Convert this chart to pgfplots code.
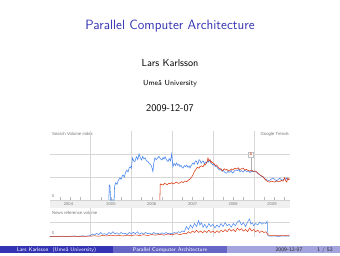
\documentclass[border=0pt]{standalone}
\usepackage{fontspec}
\usepackage{pgfplots}
\pgfplotsset{compat=1.18}
\newfontfamily\arial{Liberation Sans}
\definecolor{bstruct}{RGB}{51,51,179}
\definecolor{gblue}{RGB}{70,132,238}
\definecolor{gred}{RGB}{220,57,18}
\definecolor{ggrid}{RGB}{215,215,215}
\definecolor{gtext}{RGB}{120,120,120}
\begin{document}
\begin{tikzpicture}[x=1pt,y=1pt]
\useasboundingbox (0,0) rectangle (340,256);
\fill[white] (0,0) rectangle (340,256);
% title page
\node[anchor=base,text=bstruct,font=\sffamily\fontsize{13.4}{16}\selectfont] at (170,226.5) {Parallel Computer Architecture};
\node[anchor=base,font=\sffamily\fontsize{10.2}{12}\selectfont] at (170,189.5) {Lars Karlsson};
\node[anchor=base,font=\sffamily\fontsize{7.4}{9}\selectfont] at (170,170) {Umeå University};
\node[anchor=base,font=\sffamily\fontsize{10.2}{12}\selectfont] at (170,144.5) {2009-12-07};
% chart band
\fill[gray!12] (49.7,48) rectangle (290,56);
\draw[gray!35,line width=0.3pt] (49.7,56) -- (290,56);
\node[anchor=base west,text=gtext,font=\arial\fontsize{4.3}{5}\selectfont,inner sep=0pt] at (52,120.5) {Search Volume index};
\node[anchor=base east,text=gtext,font=\arial\fontsize{4.3}{5}\selectfont,inner sep=0pt] at (289,120.5) {Google Trends};
\node[anchor=base west,text=gtext,font=\arial\fontsize{4.3}{5}\selectfont,inner sep=0pt] at (52,41.5) {News reference volume};
\foreach \yr/\xx in {2004/68.5,2005/111,2006/151.7,2007/192.6,2008/233.2,2009/272}
  \node[anchor=base,text=gtext,font=\arial\fontsize{4.1}{5}\selectfont,inner sep=0pt] at (\xx,50.5) {\yr};
% upper chart
\begin{axis}[
  at={(49.7pt,56pt)}, anchor=south west, scale only axis,
  width=240.3pt, height=69pt,
  xmin=2004, xmax=2009.89, ymin=0, ymax=3,
  clip=false,
  axis line style={draw=none},
  xtick={2005,2006,2007,2008,2009},
  minor xtick={2004.25,2004.5,2004.75,2005.25,2005.5,2005.75,2006.25,2006.5,2006.75,2007.25,2007.5,2007.75,2008.25,2008.5,2008.75,2009.25,2009.5,2009.75},
  ytick={1,2},
  xticklabels={}, yticklabels={},
  xtick pos=bottom,
  major tick length=0pt, minor tick length=2.6pt, tick align=inside,
  minor tick style={gray!55,line width=0.3pt},
  grid=major, major grid style={ggrid,line width=0.35pt},
]
\node[anchor=base west,text=gtext,font=\arial\fontsize{4.1}{5}\selectfont,inner sep=0pt] at (axis cs:2004.05,0.1) {0};
\addplot[gblue,line width=0.55pt] coordinates {
(2005.45,0) (2005.46,0.65) (2005.48,0.6) (2005.49,0) (2005.58,0) (2005.59,0.6) (2005.62,0.75) (2005.65,0.68) (2005.68,0.85) (2005.72,0.96) (2005.75,0.9) (2005.78,1.05) (2005.80,1.09) (2005.83,1.0) (2005.86,1.2) (2005.89,1.30) (2005.92,1.22) (2005.95,1.4) (2005.97,1.45) (2006.0,1.38) (2006.03,1.83) (2006.06,1.7) (2006.09,1.67) (2006.11,1.8) (2006.13,1.88) (2006.16,1.75) (2006.19,2.0) (2006.22,1.85) (2006.25,1.74) (2006.28,1.9) (2006.31,1.78) (2006.34,1.83) (2006.37,1.7) (2006.41,1.67) (2006.44,1.58) (2006.47,1.55) (2006.50,1.45) (2006.53,1.23) (2006.55,1.6) (2006.58,1.83) (2006.61,1.75) (2006.65,1.84) (2006.68,1.9) (2006.71,1.8) (2006.75,1.74) (2006.78,1.85) (2006.80,1.78) (2006.83,1.88) (2006.86,1.75) (2006.90,1.67) (2006.93,1.8) (2006.96,1.7) (2006.99,2.0) (2007.02,1.45) (2007.05,1.6) (2007.08,1.5) (2007.11,1.61) (2007.14,1.5) (2007.17,1.55) (2007.19,1.45) (2007.22,1.5) (2007.25,1.4) (2007.27,1.39) (2007.30,1.5) (2007.33,1.45) (2007.36,1.52) (2007.39,1.42) (2007.42,1.48) (2007.44,1.39) (2007.47,1.5) (2007.51,1.61) (2007.54,1.55) (2007.57,1.7) (2007.60,1.67) (2007.63,1.55) (2007.66,1.75) (2007.68,1.74) (2007.71,1.6) (2007.74,1.68) (2007.76,1.70) (2007.79,1.58) (2007.82,1.65) (2007.85,1.61) (2007.88,1.72) (2007.90,1.65) (2007.93,1.74) (2007.96,1.6) (2008.00,1.52) (2008.03,1.55) (2008.06,1.45) (2008.09,1.45) (2008.12,1.38) (2008.15,1.32) (2008.17,1.30) (2008.20,1.35) (2008.23,1.25) (2008.25,1.30) (2008.28,1.22) (2008.31,1.18) (2008.34,1.17) (2008.37,1.25) (2008.40,1.2) (2008.42,1.22) (2008.45,1.28) (2008.47,1.2) (2008.49,1.17) (2008.52,1.25) (2008.55,1.3) (2008.58,1.30) (2008.61,1.27) (2008.64,1.35) (2008.66,1.23) (2008.70,1.28) (2008.74,1.22) (2008.78,1.3) (2008.83,1.23) (2008.87,1.27) (2008.91,1.2) (2008.95,1.26) (2008.98,1.23) (2009.02,1.25) (2009.07,1.22) (2009.10,1.15) (2009.13,1.12) (2009.15,1.09) (2009.19,1.03) (2009.23,1.01) (2009.27,0.92) (2009.30,0.9) (2009.32,0.87) (2009.36,0.85) (2009.40,0.87) (2009.44,0.92) (2009.47,0.96) (2009.51,0.9) (2009.56,0.83) (2009.60,0.9) (2009.64,0.94) (2009.68,0.88) (2009.72,0.87) (2009.76,0.95) (2009.79,0.9) (2009.81,0.96) (2009.84,0.9) (2009.87,0.91)
};
\addplot[gred,line width=0.55pt] coordinates {
(2006.70,0) (2006.71,0.7) (2006.74,0.68) (2006.78,0.65) (2006.81,0.72) (2006.85,0.70) (2006.88,0.66) (2006.92,0.73) (2006.95,0.70) (2006.99,0.75) (2007.03,0.7) (2007.07,0.74) (2007.11,0.78) (2007.15,0.72) (2007.19,0.74) (2007.23,0.8) (2007.27,0.76) (2007.31,0.82) (2007.36,0.80) (2007.40,0.86) (2007.44,0.91) (2007.48,1.0) (2007.51,1.09) (2007.55,1.25) (2007.58,1.32) (2007.60,1.39) (2007.63,1.42) (2007.66,1.38) (2007.68,1.45) (2007.72,1.48) (2007.76,1.45) (2007.79,1.55) (2007.81,1.52) (2007.84,1.6) (2007.86,1.68) (2007.88,1.83) (2007.90,1.7) (2007.93,1.75) (2007.95,1.62) (2007.97,1.67) (2008.00,1.6) (2008.03,1.58) (2008.06,1.5) (2008.09,1.52) (2008.12,1.45) (2008.15,1.38) (2008.19,1.35) (2008.22,1.28) (2008.25,1.30) (2008.28,1.36) (2008.31,1.3) (2008.34,1.33) (2008.38,1.27) (2008.42,1.30) (2008.45,1.35) (2008.49,1.3) (2008.53,1.38) (2008.58,1.35) (2008.62,1.4) (2008.66,1.32) (2008.70,1.36) (2008.74,1.39) (2008.78,1.3) (2008.82,1.33) (2008.87,1.28) (2008.91,1.26) (2008.95,1.3) (2008.99,1.24) (2009.03,1.26) (2009.07,1.23) (2009.11,1.15) (2009.15,1.1) (2009.19,1.05) (2009.23,1.01) (2009.27,0.92) (2009.31,0.85) (2009.35,0.80) (2009.39,0.78) (2009.43,0.82) (2009.47,0.80) (2009.51,0.78) (2009.56,0.83) (2009.60,0.8) (2009.64,0.80) (2009.68,0.85) (2009.72,0.82) (2009.76,0.96) (2009.78,0.85) (2009.81,0.78) (2009.84,0.96) (2009.86,0.88) (2009.88,0.91)
};
\draw[gray!60,line width=0.3pt] (axis cs:2008.93,1.3) -- (axis cs:2008.93,1.85);
\node[draw=gray!50,fill=white,line width=0.3pt,inner sep=0.6pt,text=gred,font=\arial\bfseries\fontsize{3.6}{4}\selectfont,minimum size=5pt] at (axis cs:2008.93,1.97) {A};
\end{axis}
% lower chart
\begin{axis}[
  at={(49.7pt,19pt)}, anchor=south west, scale only axis,
  width=240.3pt, height=29pt,
  xmin=2004, xmax=2009.89, ymin=0, ymax=1.933,
  clip=false,
  axis line style={draw=none},
  xtick={2005,2006,2007,2008,2009},
  ytick={1},
  xticklabels={}, yticklabels={},
  major tick length=0pt,
  grid=major, major grid style={ggrid,line width=0.35pt},
]
\node[anchor=base west,text=gtext,font=\arial\fontsize{4.1}{5}\selectfont,inner sep=0pt] at (axis cs:2004.05,0.15) {0};
\addplot[gblue,line width=0.5pt] coordinates {
(2004.00,0.03) (2004.1,0.05) (2004.2,0.03) (2004.3,0.06) (2004.4,0.04) (2004.5,0.05) (2004.6,0.07) (2004.7,0.04) (2004.8,0.08) (2004.9,0.05) (2005.0,0.1) (2005.05,0.2) (2005.1,0.12) (2005.15,0.25) (2005.2,0.15) (2005.25,0.3) (2005.3,0.18) (2005.35,0.22) (2005.4,0.14) (2005.45,0.3) (2005.5,0.2) (2005.55,0.35) (2005.6,0.2) (2005.65,0.28) (2005.7,0.18) (2005.75,0.3) (2005.8,0.2) (2005.85,0.25) (2005.9,0.16) (2005.95,0.3) (2006.0,0.2) (2006.05,0.32) (2006.1,0.22) (2006.15,0.35) (2006.2,0.18) (2006.25,0.28) (2006.3,0.2) (2006.35,0.3) (2006.4,0.22) (2006.45,0.26) (2006.5,0.18) (2006.55,0.3) (2006.6,0.2) (2006.65,0.25) (2006.7,0.18) (2006.75,0.28) (2006.8,0.2) (2006.85,0.3) (2006.9,0.22) (2006.95,0.26) (2007.0,0.2) (2007.05,0.3) (2007.1,0.25) (2007.15,0.35) (2007.2,0.3) (2007.25,0.4) (2007.3,0.35) (2007.35,0.7) (2007.4,0.5) (2007.45,0.8) (2007.5,0.6) (2007.55,0.9) (2007.6,0.7) (2007.65,1.1) (2007.68,0.8) (2007.72,0.95) (2007.76,0.65) (2007.8,0.85) (2007.85,0.6) (2007.9,0.9) (2007.95,0.7) (2008.0,0.85) (2008.05,0.6) (2008.1,0.8) (2008.15,0.65) (2008.2,0.9) (2008.25,0.7) (2008.3,0.95) (2008.35,0.75) (2008.4,0.85) (2008.45,0.65) (2008.5,0.9) (2008.55,0.75) (2008.6,1.0) (2008.65,1.1) (2008.7,0.8) (2008.75,0.95) (2008.8,0.7) (2008.85,1.0) (2008.9,1.2) (2008.93,0.85) (2008.97,0.95) (2009.0,0.75) (2009.05,0.9) (2009.1,0.8) (2009.15,1.0) (2009.2,0.85) (2009.25,0.95) (2009.3,0.9) (2009.33,1.05) (2009.35,0.08) (2009.4,0.05) (2009.5,0.07) (2009.6,0.04) (2009.7,0.06) (2009.8,0.05) (2009.88,0.06)
};
\addplot[gred,line width=0.5pt] coordinates {
(2004.0,0.02) (2004.2,0.04) (2004.4,0.03) (2004.6,0.05) (2004.8,0.04) (2005.0,0.06) (2005.1,0.08) (2005.2,0.05) (2005.3,0.1) (2005.4,0.07) (2005.5,0.12) (2005.6,0.08) (2005.7,0.1) (2005.8,0.07) (2005.9,0.12) (2006.0,0.09) (2006.1,0.14) (2006.2,0.1) (2006.3,0.15) (2006.4,0.1) (2006.5,0.16) (2006.6,0.12) (2006.7,0.18) (2006.8,0.12) (2006.9,0.2) (2007.0,0.15) (2007.1,0.22) (2007.2,0.16) (2007.3,0.25) (2007.35,0.2) (2007.4,0.35) (2007.45,0.25) (2007.5,0.4) (2007.55,0.3) (2007.6,0.45) (2007.65,0.3) (2007.7,0.4) (2007.75,0.28) (2007.8,0.42) (2007.85,0.3) (2007.9,0.45) (2007.95,0.3) (2008.0,0.4) (2008.05,0.28) (2008.1,0.42) (2008.15,0.3) (2008.2,0.45) (2008.25,0.35) (2008.3,0.5) (2008.35,0.35) (2008.4,0.55) (2008.45,0.4) (2008.5,0.5) (2008.55,0.35) (2008.6,0.6) (2008.65,0.45) (2008.7,0.55) (2008.75,0.4) (2008.8,0.5) (2008.85,0.35) (2008.9,0.6) (2008.95,0.4) (2009.0,0.5) (2009.05,0.35) (2009.1,0.45) (2009.15,0.3) (2009.2,0.4) (2009.25,0.3) (2009.3,0.35) (2009.35,0.15) (2009.4,0.1) (2009.5,0.12) (2009.6,0.08) (2009.7,0.12) (2009.8,0.1) (2009.88,0.12)
};
\end{axis}
% footline
\fill[bstruct] (0,2.7) rectangle (113.33,9.7);
\fill[bstruct!75!white] (113.33,2.7) rectangle (226.67,9.7);
\fill[bstruct!45!white] (226.67,2.7) rectangle (340,9.7);
\node[anchor=base,text=white,font=\sffamily\fontsize{5.4}{6}\selectfont,inner sep=0pt] at (56.5,4.6) {Lars Karlsson\ \ (Umeå University)};
\node[anchor=base,text=white,font=\sffamily\fontsize{5.4}{6}\selectfont,inner sep=0pt] at (170,4.6) {Parallel Computer Architecture};
\node[anchor=base,text=black!85,font=\sffamily\fontsize{5.4}{6}\selectfont,inner sep=0pt] at (289,4.6) {2009-12-07};
\node[anchor=base,text=black!85,font=\sffamily\fontsize{5.4}{6}\selectfont,inner sep=0pt] at (325,4.6) {1 / 52};
\end{tikzpicture}
\end{document}
